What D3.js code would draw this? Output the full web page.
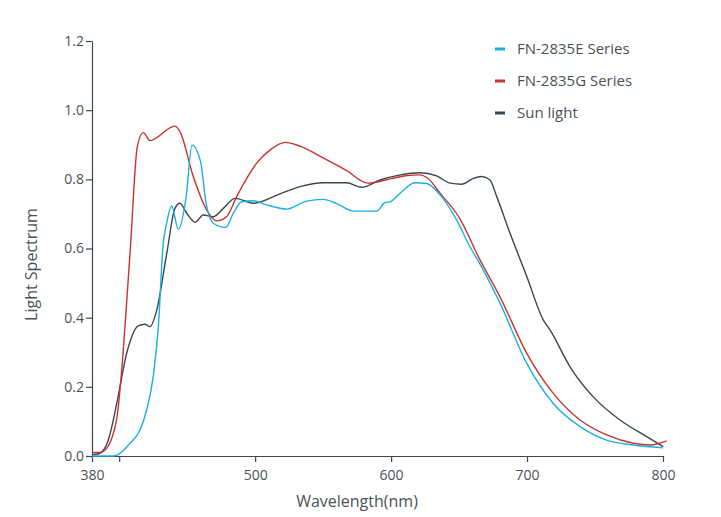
<!DOCTYPE html>
<html>
<head>
<meta charset="utf-8">
<script src="https://cdn.jsdelivr.net/npm/d3@7"></script>
<style>
  html, body { margin: 0; padding: 0; background: #ffffff; }
  svg { display: block; }
  text { font-family: "Open Sans", "Noto Sans", sans-serif; }
</style>
</head>
<body>
<div id="chart"></div>
<script>
// ---------- data ----------
const seriesNames = ["FN-2835E Series", "FN-2835G Series", "Sun light"];
const seriesColors = ["#1ab0e2", "#c9332e", "#3b4653"];

const eWave = [380, 395.7, 408, 415.3, 420.2, 425, 428.8, 432.4, 434.4, 438.6, 443.5, 449.1, 453.6, 460, 463.9, 469.2, 478.3, 484, 490, 498.6, 508.5, 523.2, 537.9, 550.1, 560, 572.2, 589.4, 595.5, 599.2, 608, 617.6, 626.1, 636, 648.3, 658, 665.4, 680.1, 699.8, 719.3, 739, 758.6, 778.2, 799.8];
const eVal  = [0, 0, 0.037, 0.075, 0.133, 0.229, 0.374, 0.615, 0.663, 0.723, 0.656, 0.745, 0.899, 0.849, 0.731, 0.673, 0.661, 0.702, 0.735, 0.738, 0.726, 0.714, 0.737, 0.742, 0.73, 0.708, 0.708, 0.733, 0.735, 0.765, 0.79, 0.788, 0.755, 0.682, 0.605, 0.555, 0.442, 0.268, 0.152, 0.085, 0.046, 0.032, 0.024];

const gWave = [380, 386, 389.6, 398, 408, 413.3, 417.7, 422.7, 441, 444.7, 454.5, 464.4, 471.7, 479, 486.4, 501, 512, 522, 533, 550, 567, 583, 600, 612, 621, 627, 636, 650, 665.4, 680, 699.8, 719.3, 739, 758.6, 778.2, 790.4, 802.7];
const gVal  = [0.01, 0.01, 0.017, 0.104, 0.587, 0.894, 0.935, 0.912, 0.954, 0.938, 0.808, 0.711, 0.68, 0.692, 0.75, 0.846, 0.888, 0.907, 0.896, 0.862, 0.826, 0.789, 0.802, 0.811, 0.813, 0.803, 0.76, 0.69, 0.567, 0.461, 0.297, 0.181, 0.104, 0.061, 0.037, 0.032, 0.044];

const sWave = [380, 385.9, 392, 398.2, 405.5, 414, 418.9, 422.7, 427.6, 435, 441, 444.7, 449.7, 455.8, 461.9, 469.2, 476.6, 485.2, 498.6, 518.3, 533, 550.1, 567.3, 578.4, 591.8, 606, 621.3, 633.5, 643.3, 651.9, 660.5, 666.6, 672.7, 677.7, 687.5, 699.8, 712, 717, 731.6, 748.7, 768.4, 788, 800.2];
const sVal  = [0.003, 0.008, 0.046, 0.152, 0.297, 0.376, 0.381, 0.374, 0.422, 0.586, 0.716, 0.731, 0.702, 0.676, 0.697, 0.692, 0.716, 0.745, 0.731, 0.758, 0.779, 0.79, 0.79, 0.777, 0.798, 0.812, 0.819, 0.81, 0.789, 0.786, 0.803, 0.808, 0.798, 0.75, 0.644, 0.519, 0.393, 0.364, 0.258, 0.171, 0.104, 0.056, 0.027];

const xTicks = [380, 400, 500, 600, 700, 800];
const xTickLabels = ["380", "", "500", "600", "700", "800"];
const yTicks = [0, 0.2, 0.4, 0.6, 0.8, 1.0, 1.2];
const xTitle = "Wavelength(nm)";
const yTitle = "Light Spectrum";

// ---------- layout ----------
const W = 721, H = 517;
const margin = { left: 92, right: 58, top: 41, bottom: 61 };
const axisColor = "#3c4752";
const textColor = "#4a5259";

const svg = d3.select("#chart").append("svg")
  .attr("width", W).attr("height", H);

const x = d3.scaleLinear().domain([380, 800]).range([margin.left, W - margin.right]);
const y = d3.scaleLinear().domain([0, 1.2]).range([H - margin.bottom, margin.top]);

// axes
const xAxis = d3.axisBottom(x).tickValues(xTicks)
  .tickFormat((d, i) => xTickLabels[i]).tickSize(6).tickSizeOuter(0);
const gx = svg.append("g").attr("transform", `translate(0,${y(0)})`).call(xAxis);
gx.select(".domain").attr("stroke", axisColor).attr("stroke-width", 1.2);
gx.selectAll(".tick line").attr("stroke", axisColor).attr("stroke-width", 1.2);
gx.selectAll(".tick text").attr("fill", textColor).attr("font-size", 14).attr("dy", "1.05em");

const yAxis = d3.axisLeft(y).tickValues(yTicks)
  .tickFormat(d3.format(".1f")).tickSize(6).tickSizeOuter(0);
const gy = svg.append("g").attr("transform", `translate(${x(380)},0)`).call(yAxis);
gy.select(".domain").attr("stroke", axisColor).attr("stroke-width", 1.2);
gy.selectAll(".tick line").attr("stroke", axisColor).attr("stroke-width", 1.2);
gy.selectAll(".tick text").attr("fill", textColor).attr("font-size", 14).attr("x", -8);

// titles
svg.append("text").attr("x", 357).attr("y", 507)
  .attr("text-anchor", "middle").attr("fill", textColor).attr("font-size", 16)
  .text(xTitle);
svg.append("text").attr("transform", `translate(37,${(y(0) + y(1.2)) / 2 + 16}) rotate(-90)`)
  .attr("text-anchor", "middle").attr("fill", textColor).attr("font-size", 16)
  .text(yTitle);

// lines
const seriesData = [
  eWave.map((w, i) => [w, eVal[i]]),
  gWave.map((w, i) => [w, gVal[i]]),
  sWave.map((w, i) => [w, sVal[i]])
];
const line = d3.line().x(d => x(d[0])).y(d => y(d[1])).curve(d3.curveMonotoneX);

// draw sun, red, blue order
[2, 1, 0].forEach(k => {
  svg.append("path").datum(seriesData[k])
    .attr("d", line).attr("fill", "none")
    .attr("stroke", seriesColors[k]).attr("stroke-width", 1.4)
    .attr("stroke-linejoin", "round");
});

// legend
const lg = svg.append("g").attr("transform", "translate(495,49)");
seriesNames.forEach((name, i) => {
  const row = lg.append("g").attr("transform", `translate(0,${i * 32})`);
  row.append("line").attr("x1", 0).attr("x2", 10).attr("y1", 0).attr("y2", 0)
    .attr("stroke", seriesColors[i]).attr("stroke-width", 3);
  row.append("text").attr("x", 22).attr("y", 0).attr("dy", "0.35em")
    .attr("fill", textColor).attr("font-size", 15).text(name);
});
</script>
</body>
</html>
